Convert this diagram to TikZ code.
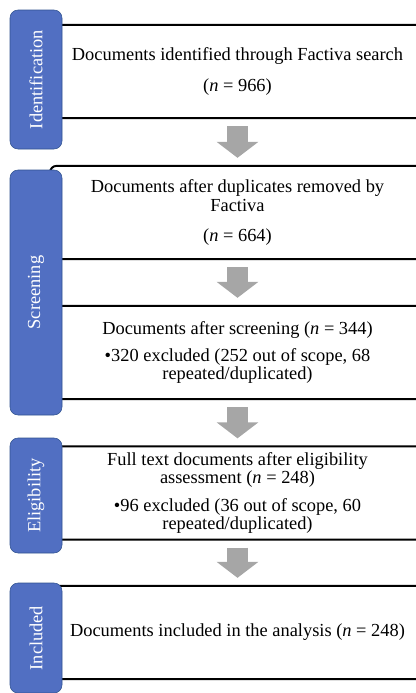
\documentclass[tikz,border=0pt]{standalone}
\usepackage{fontspec}
\setmainfont{Liberation Serif}
\usetikzlibrary{arrows.meta}
\definecolor{stageblue}{RGB}{81,111,194}
\definecolor{stageedge}{RGB}{47,82,143}
\definecolor{flowgray}{RGB}{166,166,166}

\begin{document}
\begin{tikzpicture}[x=0.75pt,y=-0.75pt,
	box/.style={draw,line width=1.5pt,fill=white,rounded corners=5pt,minimum width=281.25pt,minimum height=70pt,align=center,inner sep=0pt,font=\fontsize{13.8}{13.8}\selectfont},
	stage/.style={draw=stageedge,fill=stageblue,rounded corners=6pt,rotate=90,minimum height=39pt,inner sep=0pt,text=white,font=\fontsize{13.8}{13.8}\selectfont},
	down/.style={draw=flowgray,line width=15.75pt,-{Triangle[width=30.75pt,length=12pt]},shorten <=5.25pt,shorten >=5.25pt}]
	\clip (0,0) rectangle (416,693);
	\node[box] at (237.5,71.5) (found) {Documents identified through Factiva search\\[8.8pt] (\textit{n} = 966)};
	\node[box] at (237.5,212.5) (dedup) {Documents after duplicates removed by\\ Factiva\\[8.8pt] (\textit{n} = 664)};
	\node[box] at (237.5,352.5) (screened) {Documents after screening (\textit{n} = 344)\\[6.5pt] \textbullet320 excluded (252 out of scope, 68\\ repeated/duplicated)};
	\node[box] at (237.5,493) (eligible) {Full text documents after eligibility\\ assessment (\textit{n} = 248)\\[6.5pt] \textbullet96 excluded (36 out of scope, 60\\ repeated/duplicated)};
	\node[box] at (237.5,632.5) (included) {Documents included in the analysis (\textit{n} = 248)};
	\draw[down] (found) -- (dedup);
	\draw[down] (dedup) -- (screened);
	\draw[down] (screened) -- (eligible);
	\draw[down] (eligible) -- (included);
	\node[stage,minimum width=104.25pt] at (36,79.5) (ident) {Identification};
	\node[stage,minimum width=183.75pt] at (36,292.5) (screen) {Screening};
	\node[stage,minimum width=86.25pt] at (36,495.5) (elig) {Eligibility};
	\node[stage,minimum width=82.5pt] at (36,638) (incl) {Included};
\end{tikzpicture}
\end{document}
